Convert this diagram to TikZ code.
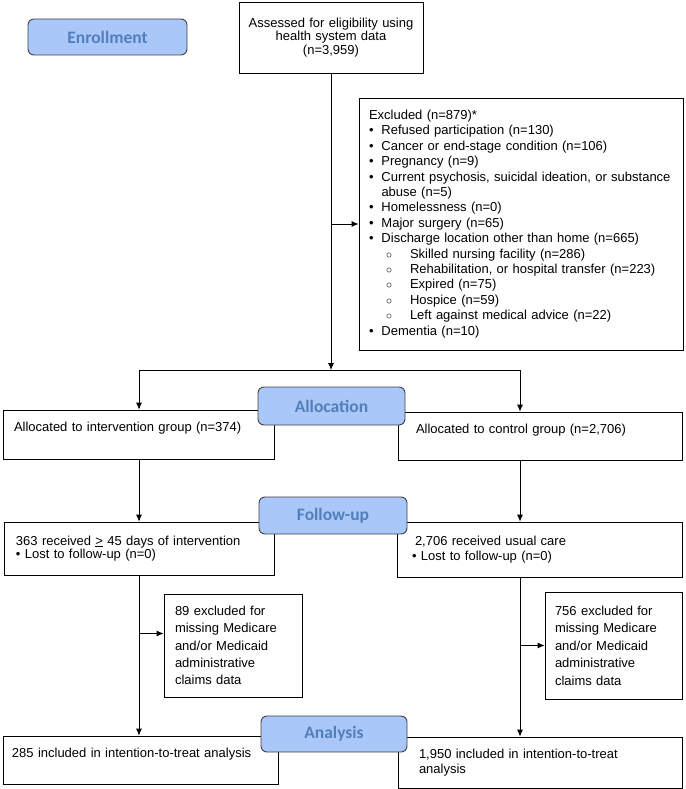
\documentclass[tikz,border=0pt]{standalone}
\usepackage{fontspec}
\setmainfont{Liberation Sans}
\newfontfamily\stagefont{Carlito}
\usetikzlibrary{arrows.meta}
\definecolor{stagefill}{RGB}{170,199,250}
\definecolor{stagetext}{RGB}{82,127,186}
\definecolor{stagedraw}{RGB}{64,64,64}
\tikzset{box/.style={rectangle, draw=black, line width=0.8pt, align=left, inner ysep=0pt}}
\tikzset{stage/.style={rectangle, rounded corners=6pt, draw=stagedraw, line width=0.9pt, fill=stagefill, text=stagetext, inner sep=0pt, font=\stagefont\bfseries\fontsize{17.5}{19}\selectfont}}
\tikzset{arrow/.style={line width=0.8pt, -{Latex[length=7pt,width=6pt]}}}
\newcommand{\bitem}[1]{\par\noindent\hangindent=12.5pt\hangafter=1\makebox[12.5pt][l]{\textbullet}#1}
\newcommand{\sitem}[1]{\par\noindent\hspace*{17pt}\makebox[24pt][l]{$\circ$}#1}

\begin{document}
\begin{tikzpicture}[x=1pt, y=-1pt]
\useasboundingbox (0,0) rectangle (685,789);
% boxes
\node (assess) [box, align=center, text width=172pt, inner xsep=6pt, minimum height=71pt, font=\fontsize{13}{13.5}\selectfont] at (331,37.5) {Assessed for eligibility using\\health system data\\(n=3,959)};
\node (allocL) [box, text width=249pt, inner xsep=11pt, minimum height=49pt, font=\fontsize{13}{15}\selectfont] at (138.5,434.5) {Allocated to intervention group (n=374)\\\mbox{}};
\node (allocR) [box, text width=248pt, inner xsep=18pt, minimum height=48pt, font=\fontsize{13}{15}\selectfont] at (540,436) {Allocated to control group (n=2,706)\\\mbox{}};
\node (followL) [box, text width=246pt, inner xsep=12pt, minimum height=53pt, font=\fontsize{13}{13.5}\selectfont] at (139,548.5) {363 received \underline{>} 45 days of intervention\\\textbullet~Lost to follow-up (n=0)};
\node (followR) [box, text width=255pt, inner xsep=15pt, minimum height=55pt, font=\fontsize{13}{15}\selectfont] at (539.5,549.5) {\hspace*{3pt}2,706 received usual care\\\textbullet~Lost to follow-up (n=0)};
\node (exclL) [box, text width=116pt, inner xsep=11pt, minimum height=103pt, font=\fontsize{13}{17.3}\selectfont] at (233,645.5) {89 excluded for\\missing Medicare\\and/or Medicaid\\administrative\\claims data};
\node (exclR) [box, text width=117pt, inner xsep=10pt, minimum height=107pt, font=\fontsize{13}{17.5}\selectfont] at (613.5,645.5) {756 excluded for\\missing Medicare\\and/or Medicaid\\administrative\\claims data};
\node (anaL) [box, text width=257pt, inner xsep=9pt, minimum height=48pt, font=\fontsize{13}{15}\selectfont] at (140.5,760) {285 included in intention-to-treat analysis\\\mbox{}};
\node (anaR) [box, text width=242pt, inner xsep=21pt, minimum height=51pt, font=\fontsize{13}{15}\selectfont] at (540,762.5) {1,950 included in intention-to-treat\\analysis};
\node (excl) [box, text width=304pt, inner xsep=10pt, minimum height=252pt, font=\fontsize{13}{15.4}\selectfont] at (521,224) {\noindent Excluded (n=879)*
\bitem{Refused participation (n=130)}
\bitem{Cancer or end-stage condition (n=106)}
\bitem{Pregnancy (n=9)}
\bitem{Current psychosis, suicidal ideation, or substance\newline abuse (n=5)}
\bitem{Homelessness (n=0)}
\bitem{Major surgery (n=65)}
\bitem{Discharge location other than home (n=665)}
\sitem{Skilled nursing facility (n=286)}
\sitem{Rehabilitation, or hospital transfer (n=223)}
\sitem{Expired (n=75)}
\sitem{Hospice (n=59)}
\sitem{Left against medical advice (n=22)}
\bitem{Dementia (n=10)}};
% stage labels
\node (enroll) [stage, minimum width=159pt, minimum height=36pt] at (107.5,37) {Enrollment};
\node (alloc) [stage, minimum width=147pt, minimum height=38pt] at (331.5,406) {Allocation};
\node (follow) [stage, minimum width=148pt, minimum height=37pt] at (333,515.5) {Follow-up};
\node (ana) [stage, minimum width=146pt, minimum height=36pt] at (334,734) {Analysis};
% connectors
\coordinate (split) at (331,370);
\coordinate (colL) at (139,0);
\coordinate (colR) at (520,0);
\coordinate (brL) at ([yshift=12pt]exclL.west);
\draw [arrow] (assess.south) -- (split);
\draw [arrow] (assess.south |- excl.west) -- (excl.west);
\draw [arrow] (split) -| (colL |- allocL.north);
\draw [arrow] (split) -| (colR |- allocR.north);
\draw [arrow] (colL |- allocL.south) -- (colL |- followL.north);
\draw [arrow] (colR |- allocR.south) -- (colR |- followR.north);
\draw [arrow] (colL |- followL.south) -- (colL |- anaL.north);
\draw [arrow] (colR |- followR.south) -- (colR |- anaR.north);
\draw [arrow] (colL |- brL) -- (brL);
\draw [arrow] (colR |- exclR.west) -- (exclR.west);
\end{tikzpicture}
\end{document}
